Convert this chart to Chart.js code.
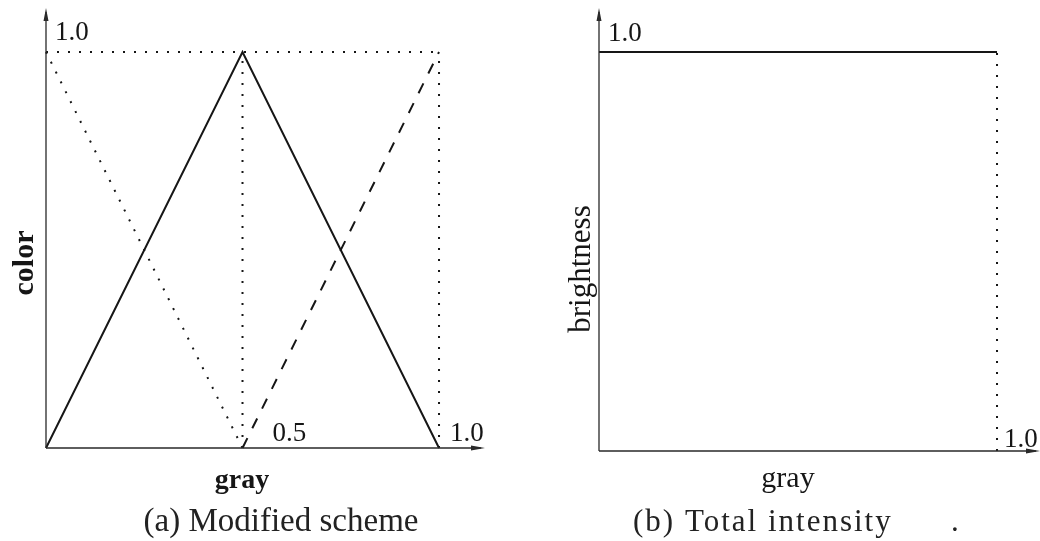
<!DOCTYPE html>
<html>
<head>
<meta charset="utf-8">
<script src="https://cdn.jsdelivr.net/npm/chart.js@4/dist/chart.umd.min.js"></script>
<style>
  html, body { margin: 0; padding: 0; background: #fff; }
  #wrap { position: relative; width: 1040px; height: 541px; }
  canvas { position: absolute; top: 0; }
  #schemeChart { left: 0; }
  #intensityChart { left: 520px; }
</style>
</head>
<body>
<div id="wrap">
  <canvas id="schemeChart" width="520" height="541"></canvas>
  <canvas id="intensityChart" width="520" height="541"></canvas>
</div>
<script>
// gray levels sampled by the curves
const grayLevels = [0, 0.5, 1.0];

// (a) modified scheme: colour channel value against gray
const peakChannel = [0, 1, 0];      // solid, over all gray levels
const fallingGray = [0, 0.5];
const fallingChannel = [1, 0];      // dotted
const risingGray = [0.5, 1.0];
const risingChannel = [0, 1];       // dashed

// (b) total intensity
const brightnessGray = [0, 1.0];
const brightness = [1, 1];

// tick labels
const schemeXTicks = [0.5, 1.0];
const schemeYTicks = [1.0];
const intensityXTicks = [1.0];
const intensityYTicks = [1.0];

const ink = '#161616';
const serif = '"Liberation Serif", "DejaVu Serif", serif';
const tickFont = '27px ' + serif;

function pts(xs, ys) {
    return xs.map((x, i) => ({ x: x, y: ys[i] }));
}

function line(data, dash, width) {
    return {
        data: data,
        showLine: true,
        borderColor: ink,
        borderWidth: width || 2,
        borderDash: dash || [],
        borderCapStyle: 'butt',
        pointRadius: 0,
        fill: false,
        clip: false,
        tension: 0
    };
}

const dotted = [2, 9];

function baseOptions(xMax, yMax, padding) {
    return {
        responsive: false,
        animation: false,
        devicePixelRatio: 1,
        layout: { padding: padding },
        plugins: { legend: { display: false }, tooltip: { enabled: false } },
        scales: {
            x: { type: 'linear', min: 0, max: xMax, display: false },
            y: { type: 'linear', min: 0, max: yMax, display: false }
        }
    };
}

// axes with arrow heads, drawn from the scale origin to the chart edge
function drawAxes(chart) {
    const ctx = chart.ctx;
    const a = chart.chartArea;
    const x0 = chart.scales.x.getPixelForValue(0);
    const y0 = chart.scales.y.getPixelForValue(0);
    ctx.save();
    ctx.strokeStyle = '#2a2a2a';
    ctx.fillStyle = '#2a2a2a';
    ctx.lineWidth = 1.3;
    ctx.beginPath();
    ctx.moveTo(x0, y0);
    ctx.lineTo(x0, a.top + 4);
    ctx.moveTo(x0, y0);
    ctx.lineTo(a.right - 4, y0);
    ctx.stroke();
    ctx.beginPath();
    ctx.moveTo(x0, a.top);
    ctx.lineTo(x0 - 2.5, a.top + 13);
    ctx.lineTo(x0 + 2.5, a.top + 13);
    ctx.closePath();
    ctx.moveTo(a.right, y0);
    ctx.lineTo(a.right - 14, y0 - 2.5);
    ctx.lineTo(a.right - 14, y0 + 2.5);
    ctx.closePath();
    ctx.fill();
    ctx.restore();
}

function text(ctx, str, x, y, font, align, opts) {
    opts = opts || {};
    ctx.save();
    ctx.font = font;
    ctx.fillStyle = opts.color || ink;
    ctx.textAlign = align || 'left';
    ctx.textBaseline = 'alphabetic';
    if (opts.spacing) ctx.letterSpacing = opts.spacing + 'px';
    ctx.translate(x, y);
    if (opts.rotate) ctx.rotate(opts.rotate);
    ctx.fillText(str, 0, 0);
    ctx.restore();
}

const schemeDecor = {
    id: 'schemeDecor',
    afterDatasetsDraw(chart) {
        const ctx = chart.ctx;
        const xs = chart.scales.x, ys = chart.scales.y;
        drawAxes(chart);
        const x0 = xs.getPixelForValue(0), y0 = ys.getPixelForValue(0);
        schemeYTicks.forEach(v => {
            text(ctx, v.toFixed(1), x0 + 9, ys.getPixelForValue(v) - 12, tickFont);
        });
        schemeXTicks.forEach(v => {
            const off = v === 0.5 ? 30 : 11;
            text(ctx, v.toFixed(1), xs.getPixelForValue(v) + off, y0 - 7, tickFont);
        });
        text(ctx, 'gray', 242, 488, 'bold 28px ' + serif, 'center');
        text(ctx, 'color', 33, 263, 'bold 30px ' + serif, 'center', { rotate: -Math.PI / 2 });
        text(ctx, '(a) Modified scheme', 281, 531, '33px ' + serif, 'center', { color: '#222' });
    }
};

const intensityDecor = {
    id: 'intensityDecor',
    afterDatasetsDraw(chart) {
        const ctx = chart.ctx;
        const xs = chart.scales.x, ys = chart.scales.y;
        drawAxes(chart);
        const x0 = xs.getPixelForValue(0), y0 = ys.getPixelForValue(0);
        intensityYTicks.forEach(v => {
            text(ctx, v.toFixed(1), x0 + 9, ys.getPixelForValue(v) - 11, tickFont);
        });
        intensityXTicks.forEach(v => {
            text(ctx, v.toFixed(1), xs.getPixelForValue(v) + 7, y0 - 4, tickFont);
        });
        text(ctx, 'gray', 268, 487, '30px ' + serif, 'center');
        text(ctx, 'brightness', 70, 269, '31px ' + serif, 'center', { rotate: -Math.PI / 2 });
        text(ctx, '(b) Total intensity', 113, 531, '31px ' + serif, 'left', { color: '#222', spacing: 2 });
        text(ctx, '.', 431, 531, '31px ' + serif, 'left', { color: '#222' });
    }
};

// (a) guide lines: top edge at y = 1 and verticals at the gray ticks
const schemeGuides = [
    line(pts([0, Math.max(...schemeXTicks)], [schemeYTicks[0], schemeYTicks[0]]), dotted, 2)
].concat(schemeXTicks.map(v => line(pts([v, v], [0, schemeYTicks[0]]), dotted, 2)));

new Chart(document.getElementById('schemeChart'), {
    type: 'scatter',
    data: {
        datasets: schemeGuides.concat([
            line(pts(fallingGray, fallingChannel), dotted, 2),
            line(pts(risingGray, risingChannel), [11, 11], 2),
            line(pts(grayLevels, peakChannel), [], 2)
        ])
    },
    options: baseOptions(1.117, 1.111, { left: 46, right: 35, top: 8, bottom: 93 }),
    plugins: [schemeDecor]
});

new Chart(document.getElementById('intensityChart'), {
    type: 'scatter',
    data: {
        datasets: intensityXTicks.map(v => line(pts([v, v], [0, intensityYTicks[0]]), dotted, 2)).concat([
            line(pts(brightnessGray, brightness), [], 2)
        ])
    },
    options: baseOptions(1.108, 1.110, { left: 79, right: 0, top: 8, bottom: 90 }),
    plugins: [intensityDecor]
});
</script>
</body>
</html>
